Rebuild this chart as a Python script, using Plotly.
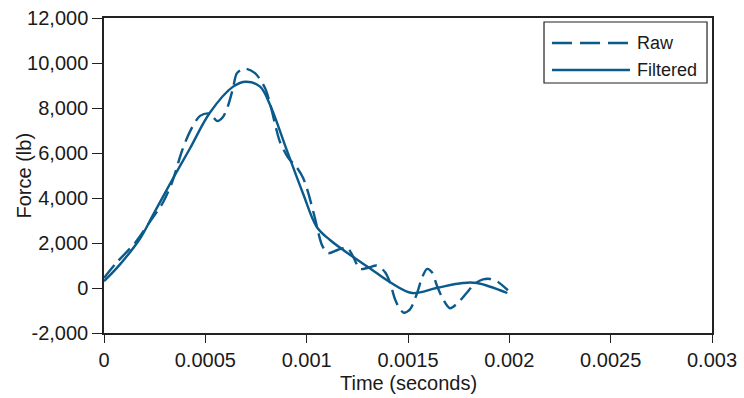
import plotly.graph_objects as go

# ---- data ----
raw_t = [0.0, 0.000064, 0.000153, 0.000227, 0.000291, 0.000336, 0.000385, 0.000424,
         0.000474, 0.000523, 0.000558, 0.000587, 0.000612, 0.000637, 0.000656, 0.000696,
         0.000745, 0.000794, 0.000819, 0.000849, 0.000868, 0.000908, 0.000952, 0.000982,
         0.001007, 0.001041, 0.001076, 0.001105, 0.001155, 0.001199, 0.001229, 0.001263,
         0.001303, 0.001347, 0.001387, 0.001411, 0.001436, 0.001461, 0.001480, 0.001510,
         0.001544, 0.001569, 0.001594, 0.001618, 0.001643, 0.001673, 0.001707, 0.001747,
         0.001791, 0.001831, 0.001870, 0.001905, 0.001944, 0.001993]
raw_f = [450, 1150, 2000, 2950, 3800, 4700, 6100, 6950,
         7650, 7750, 7420, 7600, 8100, 8900, 9550, 9750,
         9550, 8900, 8200, 7100, 6500, 5800, 5350, 4900,
         4250, 3100, 1900, 1550, 1700, 1800, 1400, 850,
         900, 1000, 700, 250, -500, -950, -1100, -950,
         -250, 450, 850, 700, 100, -500, -900, -650,
         -200, 200, 380, 400, 270, -100]

filt_t = [0.0, 0.000079, 0.000178, 0.000242, 0.000336, 0.000424, 0.000523, 0.000637,
          0.000700, 0.000770, 0.000819, 0.000903, 0.000982, 0.001050, 0.001115, 0.001230,
          0.001310, 0.001410, 0.001520, 0.001640, 0.001770, 0.001840, 0.001990]
filt_f = [300, 1050, 2200, 3250, 4800, 6200, 7800, 8950,
          9170, 8950, 8150, 6100, 4200, 2711, 2133, 1378,
          889, 267, -222, 0, 222, 222, -222]

x_tickvals = [0, 0.0005, 0.001, 0.0015, 0.002, 0.0025, 0.003]
x_ticktext = ["0", "0.0005", "0.001", "0.0015", "0.002", "0.0025", "0.003"]
y_tickvals = [-2000, 0, 2000, 4000, 6000, 8000, 10000, 12000]
y_ticktext = ["-2,000", "0", "2,000", "4,000", "6,000", "8,000", "10,000", "12,000"]

series_names = ["Raw", "Filtered"]
x_title = "Time (seconds)"
y_title = "Force (lb)"

COLOR = "#0b5a8c"
FONT = "Liberation Sans, Arial, Helvetica, sans-serif"
TXT = "#1a1a1a"
FS = 20

fig = go.Figure()
fig.add_trace(go.Scatter(x=raw_t, y=raw_f, mode="lines", name=series_names[0],
                         line=dict(color=COLOR, width=2.4, dash="16px,7px", shape="spline", smoothing=0.8),
                         showlegend=False, hoverinfo="skip"))
fig.add_trace(go.Scatter(x=filt_t, y=filt_f, mode="lines", name=series_names[1],
                         line=dict(color=COLOR, width=2.4, shape="spline", smoothing=1.0),
                         showlegend=False, hoverinfo="skip"))

# custom legend (long line samples like the reference)
fig.add_shape(type="rect", xref="paper", yref="paper", x0=0.7237, x1=0.9918, y0=0.7937, y1=0.9873,
              line=dict(color="#222", width=1.2), fillcolor="white", layer="above")
fig.add_shape(type="line", xref="paper", yref="paper", x0=0.7368, x1=0.8651, y0=0.9206, y1=0.9206,
              line=dict(color=COLOR, width=2.4, dash="20px,8px"), layer="above")
fig.add_shape(type="line", xref="paper", yref="paper", x0=0.7368, x1=0.8651, y0=0.8349, y1=0.8349,
              line=dict(color=COLOR, width=2.4), layer="above")
fig.add_annotation(xref="paper", yref="paper", x=0.874, y=0.9206, text=series_names[0],
                   showarrow=False, xanchor="left", yanchor="middle", font=dict(size=18, color=TXT, family=FONT))
fig.add_annotation(xref="paper", yref="paper", x=0.874, y=0.8349, text=series_names[1],
                   showarrow=False, xanchor="left", yanchor="middle", font=dict(size=18, color=TXT, family=FONT))

# axis titles
fig.add_annotation(xref="paper", yref="paper", x=0.5, y=-0.1587, text=x_title, showarrow=False,
                   xanchor="center", yanchor="middle", font=dict(size=FS, color=TXT, family=FONT))
fig.add_annotation(xref="paper", yref="paper", x=-0.1332, y=0.5, text=y_title, showarrow=False,
                   textangle=-90, xanchor="center", yanchor="middle", font=dict(size=FS, color=TXT, family=FONT))

axis_common = dict(showgrid=False, zeroline=False, showline=True, linecolor="#222", linewidth=1.5,
                   mirror=True, ticks="outside", tickcolor="#222", tickwidth=1.3, automargin=False,
                   tickfont=dict(size=FS, color=TXT, family=FONT))

fig.update_layout(
    width=744, height=398,
    margin=dict(l=104, r=32, t=18, b=65),
    paper_bgcolor="white", plot_bgcolor="white",
    font=dict(family=FONT, color=TXT),
    hovermode=False,
    xaxis=dict(range=[0, 0.003], tickvals=x_tickvals, ticktext=x_ticktext, ticklen=8, **axis_common),
    yaxis=dict(range=[-2000, 12000], tickvals=y_tickvals, ticktext=y_ticktext, ticklen=10, **axis_common),
)

fig.write_html("out.html", post_script="document.body.style.margin='0';",
               config={"displayModeBar": False})
